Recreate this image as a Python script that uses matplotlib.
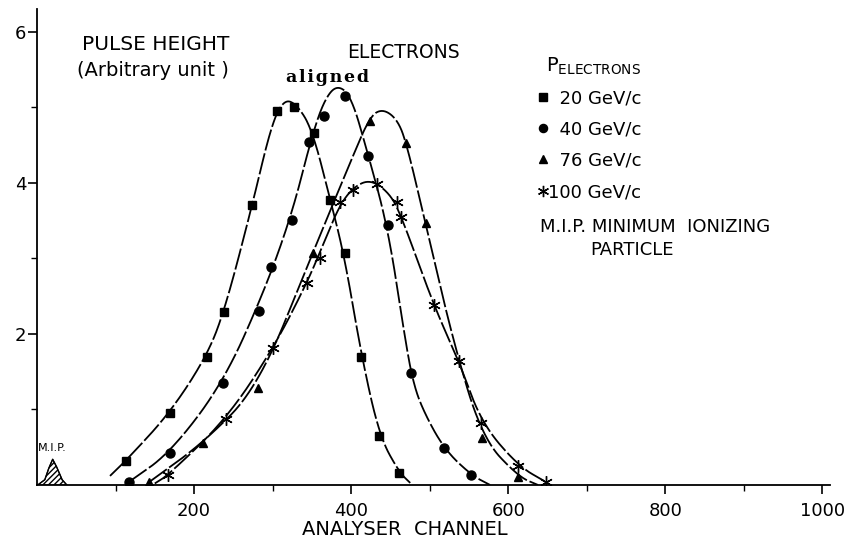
import numpy as np
import matplotlib.pyplot as plt
from matplotlib.lines import Line2D

plt.rcParams['font.family'] = ['DejaVu Sans']

momenta = [20, 40, 76, 100]  # GeV/c

# measured points: analyser channel / pulse height
sq_x = [113, 169, 217, 238, 274, 306, 327, 353, 373, 392, 413, 436, 461]
sq_y = [0.32, 0.95, 1.70, 2.29, 3.70, 4.95, 5.00, 4.66, 3.77, 3.07, 1.70, 0.65, 0.16]
ci_x = [117, 169, 237, 283, 298, 325, 346, 366, 392, 421, 447, 476, 518, 553]
ci_y = [0.04, 0.42, 1.35, 2.30, 2.89, 3.51, 4.54, 4.89, 5.15, 4.36, 3.44, 1.48, 0.49, 0.13]
tr_x = [143, 212, 282, 351, 424, 470, 495, 567, 613]
tr_y = [0.04, 0.56, 1.29, 3.07, 4.82, 4.53, 3.47, 0.62, 0.11]
st_x = [167, 241, 301, 344, 361, 386, 402, 433, 458, 463, 505, 538, 566, 613, 648]
st_y = [0.13, 0.87, 1.81, 2.68, 3.00, 3.75, 3.91, 3.98, 3.75, 3.55, 2.38, 1.64, 0.82, 0.25, 0.04]

# hand drawn guide curves (control points)
sq_cx = [93, 113, 169, 217, 240, 274, 298, 314, 330, 350, 373, 392, 413, 436, 461, 478]
sq_cy = [0.12, 0.32, 0.95, 1.72, 2.35, 3.70, 4.75, 5.10, 5.05, 4.72, 3.80, 3.00, 1.72, 0.65, 0.17, 0.0]
ci_cx = [117, 169, 237, 290, 325, 350, 366, 382, 400, 421, 447, 468, 478, 490, 518, 553, 577]
ci_cy = [0.04, 0.42, 1.35, 2.58, 3.60, 4.62, 5.10, 5.30, 5.15, 4.40, 3.40, 1.98, 1.40, 1.02, 0.48, 0.13, 0.0]
tr_cx = [143, 212, 282, 351, 400, 424, 440, 458, 470, 495, 530, 567, 613, 638]
tr_cy = [0.04, 0.56, 1.30, 3.07, 4.30, 4.88, 4.98, 4.85, 4.55, 3.45, 1.90, 0.62, 0.11, 0.0]
st_cx = [150, 167, 241, 301, 344, 365, 386, 405, 425, 447, 462, 505, 538, 566, 613, 648]
st_cy = [0.02, 0.13, 0.87, 1.81, 2.68, 3.20, 3.72, 3.96, 4.04, 3.88, 3.62, 2.38, 1.62, 0.82, 0.25, 0.04]

# minimum ionizing particle peak
mip_x = [1, 10, 15, 20, 25, 32, 38]
mip_y = [0.0, 0.07, 0.22, 0.34, 0.24, 0.07, 0.0]


def chaikin(P, iters=5):
    # corner cutting, end points kept
    P = np.asarray(P, float)
    for _ in range(iters):
        q = 0.75 * P[:-1] + 0.25 * P[1:]
        r = 0.25 * P[:-1] + 0.75 * P[1:]
        mid = np.empty((2 * len(q), 2))
        mid[0::2] = q
        mid[1::2] = r
        P = np.vstack([P[:1], mid, P[-1:]])
    return P


fig = plt.figure(figsize=(8.48, 5.42), dpi=100)
ax = fig.add_axes([0.0436, 0.1052, 0.9354, 0.878])
ax.set_xlim(0, 1010)
ax.set_ylim(0, 6.3)

asterisk = (6, 2, 0)
styles = [('s', 6), ('o', 6.5), ('^', 6), (asterisk, 9)]
curves = [(sq_cx, sq_cy), (ci_cx, ci_cy), (tr_cx, tr_cy), (st_cx, st_cy)]
points = [(sq_x, sq_y), (ci_x, ci_y), (tr_x, tr_y), (st_x, st_y)]

for (cx, cy), (px, py), (mk, ms) in zip(curves, points, styles):
    smooth = chaikin(np.column_stack([cx, cy]))
    ax.plot(smooth[:, 0], smooth[:, 1], color='black', lw=1.3,
            linestyle=(0, (12, 1.6)), solid_capstyle='butt')
    ax.plot(px, py, linestyle='none', marker=mk, ms=ms, color='black',
            mec='black', mew=1.0)

ax.fill_between(mip_x, mip_y, color='white', edgecolor='black', hatch='//////', lw=0.8)
ax.plot(mip_x, mip_y, color='black', lw=1.0)
ax.text(20, 0.42, 'M.I.P.', fontsize=8, ha='center', va='bottom')

for s in ['top', 'right']:
    ax.spines[s].set_visible(False)
for s in ['left', 'bottom']:
    ax.spines[s].set_linewidth(1.3)

ax.set_xticks([200, 400, 600, 800, 1000])
ax.set_xticks([100, 300, 500, 700, 900], minor=True)
ax.set_yticks([2, 4, 6])
ax.set_yticks([1, 3, 5], minor=True)
ax.tick_params(axis='both', which='major', direction='out', length=6.5, width=1.2,
               labelsize=13)
ax.tick_params(axis='x', which='major', pad=6)
ax.tick_params(axis='y', which='major', pad=1)
ax.tick_params(axis='both', which='minor', direction='out', length=4, width=1.0)
ax.set_xlabel('ANALYSER  CHANNEL', fontsize=14)
ax.xaxis.set_label_coords((405 - 37) / 793, (485 - 530) / 476)
ax.xaxis.label.set_va('center')

fig.text(82 / 848, 1 - 44 / 542, 'PULSE HEIGHT', fontsize=14.5, va='center')
fig.text(77 / 848, 1 - 71 / 542, '(Arbitrary unit )', fontsize=14, va='center')
fig.text(347 / 848, 1 - 53 / 542, 'ELECTRONS', fontsize=13.5, va='center')
fig.text(328 / 848, 1 - 78 / 542, '\u200a'.join('aligned'), fontsize=12.5, fontweight='bold',
         family='DejaVu Serif', ha='center', va='center')

# legend
fig.text(546 / 848, 1 - 66 / 542, r'P$_{\mathregular{ELECTRONS}}$', fontsize=14, va='center')
handles = [Line2D([], [], linestyle='none', marker=mk, ms=ms * 0.9, color='black', mew=1.0)
           for mk, ms in styles]
labels = ['\u2007' * (3 - len(str(p))) + f'{p} GeV/c' for p in momenta]
leg = ax.legend(handles, labels, loc='upper left', bbox_to_anchor=(529 / 848, 1 - 80 / 542),
                bbox_transform=fig.transFigure, frameon=False, fontsize=13,
                handlelength=0.5, handletextpad=0.05, labelspacing=0.74, borderpad=0)
fig.text(540 / 848, 1 - 227 / 542, 'M.I.P. MINIMUM  IONIZING', fontsize=13, va='center')
fig.text(590 / 848, 1 - 250 / 542, 'PARTICLE', fontsize=13, va='center')

fig.savefig('out.png', dpi=100)
